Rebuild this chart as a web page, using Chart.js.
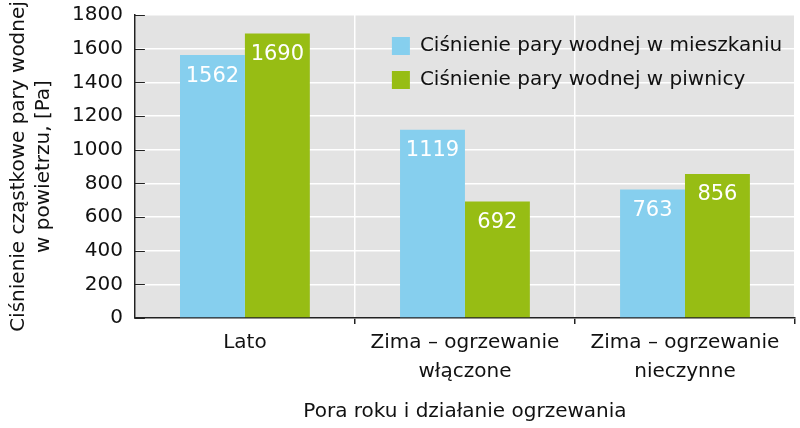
<!DOCTYPE html>
<html>
<head>
<meta charset="utf-8">
<script src="https://cdn.jsdelivr.net/npm/chart.js@4"></script>
<style>
  html, body { margin: 0; padding: 0; background: #fff; }
  #wrap { width: 800px; height: 428px; }
</style>
</head>
<body>
<div id="wrap"><canvas id="chart" width="800" height="428"></canvas></div>
<script>
const categories = [
    ['Lato'],
    ['Zima – ogrzewanie', 'włączone'],
    ['Zima – ogrzewanie', 'nieczynne']
];
const seriesNames = [
    'Ciśnienie pary wodnej w mieszkaniu',
    'Ciśnienie pary wodnej w piwnicy'
];
const flatValues = [1562, 1119, 763];
const basementValues = [1690, 692, 856];
const yTitle = ['Ciśnienie cząstkowe pary wodnej', 'w powietrzu, [Pa]'];
const xTitle = 'Pora roku i działanie ogrzewania';

const FONT = '"DejaVu Sans", sans-serif';
const BLUE = '#86cfee';
const GREEN = '#97bd14';

// grey plot background, inward y ticks, value labels and the legend inside the plot
const decorPlugin = {
    id: 'decor',
    beforeDraw(chart) {
        const { ctx, chartArea: a } = chart;
        ctx.save();
        ctx.fillStyle = '#e3e3e3';
        ctx.fillRect(a.left, a.top, a.right - a.left, a.bottom - a.top);
        ctx.restore();
    },
    afterDatasetsDraw(chart) {
        const { ctx } = chart;
        ctx.save();
        ctx.font = '21px ' + FONT;
        ctx.fillStyle = '#ffffff';
        ctx.textAlign = 'center';
        ctx.textBaseline = 'middle';
        chart.data.datasets.forEach((ds, i) => {
            chart.getDatasetMeta(i).data.forEach((bar, j) => {
                ctx.fillText(String(ds.data[j]), bar.x, bar.y + 21);
            });
        });
        ctx.restore();
    },
    afterDraw(chart) {
        const { ctx, chartArea: a } = chart;
        const y = chart.scales.y;
        ctx.save();
        ctx.strokeStyle = '#222';
        ctx.lineWidth = 1;
        y.ticks.forEach(t => {
            const py = Math.round(y.getPixelForValue(t.value)) + 0.5;
            ctx.beginPath();
            ctx.moveTo(a.left, py);
            ctx.lineTo(a.left + 10, py);
            ctx.stroke();
        });
        // legend
        ctx.font = '20px ' + FONT;
        ctx.textBaseline = 'middle';
        ctx.textAlign = 'left';
        chart.data.datasets.forEach((ds, i) => {
            const ly = a.top + 31 + i * 34;
            ctx.fillStyle = ds.backgroundColor;
            ctx.fillRect(a.left + 257, ly - 9, 18, 18);
            ctx.fillStyle = '#111';
            ctx.fillText(ds.label, a.left + 285, ly);
        });
        ctx.restore();
    }
};

new Chart(document.getElementById('chart'), {
    type: 'bar',
    data: {
        labels: categories,
        datasets: [
            {
                label: seriesNames[0],
                data: flatValues,
                backgroundColor: BLUE,
                barPercentage: 1,
                categoryPercentage: 0.59
            },
            {
                label: seriesNames[1],
                data: basementValues,
                backgroundColor: GREEN,
                barPercentage: 1,
                categoryPercentage: 0.59
            }
        ]
    },
    options: {
        responsive: false,
        animation: false,
        layout: { padding: { top: 0, right: 5, bottom: 4, left: 6 } },
        plugins: {
            legend: { display: false },
            tooltip: { enabled: false }
        },
        scales: {
            x: {
                grid: {
                    color: '#ffffff',
                    lineWidth: 1.5,
                    tickColor: c => c.index === 0 ? 'rgba(0,0,0,0)' : '#222',
                    tickLength: 6,
                    offset: true
                },
                border: { color: '#222', width: 1.5 },
                ticks: {
                    color: '#111',
                    font: { family: FONT, size: 20, lineHeight: 1.45 },
                    padding: 4,
                    maxRotation: 0
                },
                title: {
                    display: true,
                    text: xTitle,
                    color: '#111',
                    font: { family: FONT, size: 20 },
                    padding: { top: 10, bottom: 0 }
                }
            },
            y: {
                min: 0,
                max: 1800,
                ticks: {
                    stepSize: 200,
                    color: '#111',
                    font: { family: FONT, size: 20 },
                    padding: 3,
                    callback: v => String(v)
                },
                grid: {
                    color: '#ffffff',
                    lineWidth: 1.5,
                    tickColor: 'rgba(0,0,0,0)',
                    tickLength: 9
                },
                border: { color: '#222', width: 1.5 },
                title: {
                    display: true,
                    text: yTitle,
                    color: '#111',
                    font: { family: FONT, size: 20, lineHeight: 1.25 },
                    padding: { top: 0, bottom: 13 }
                }
            }
        }
    },
    plugins: [decorPlugin]
});
</script>
</body>
</html>
